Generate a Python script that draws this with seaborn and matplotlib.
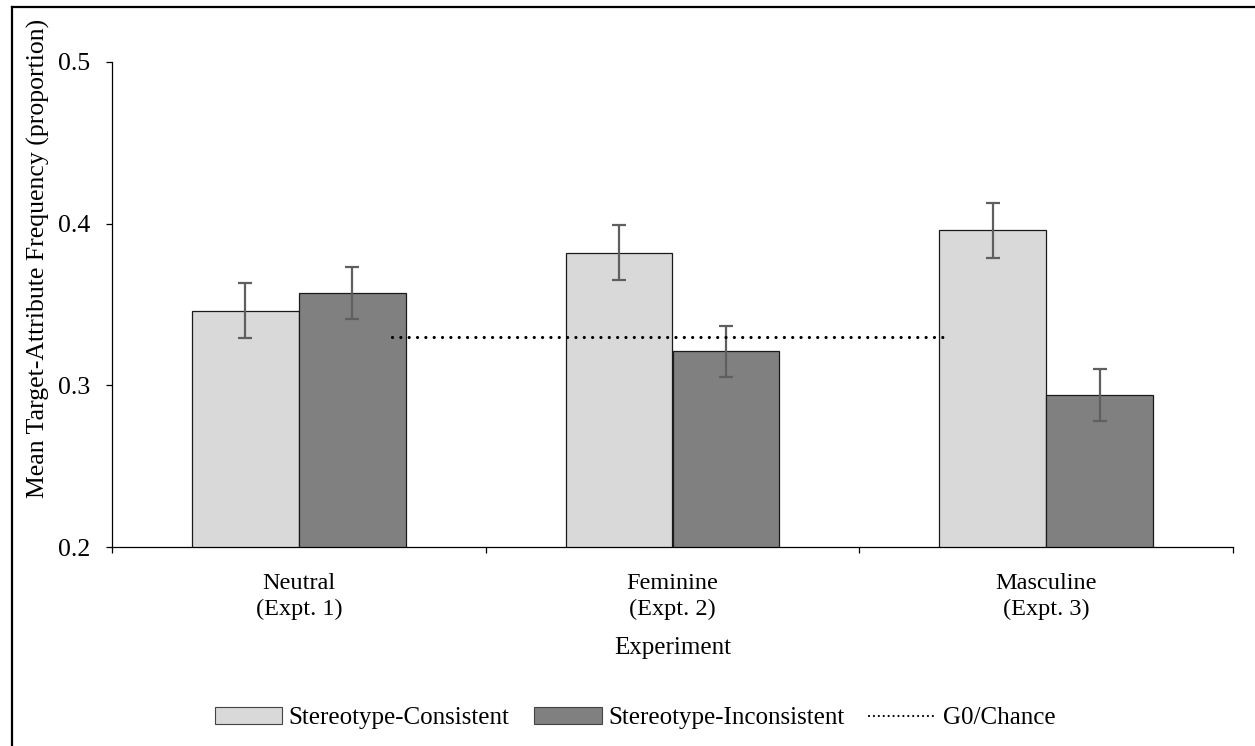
import matplotlib
matplotlib.use('Agg')
import matplotlib.pyplot as plt
import pandas as pd
import seaborn as sns
from matplotlib.lines import Line2D
from matplotlib.patches import Patch

# Data
experiments = ['Neutral\n(Expt. 1)', 'Feminine\n(Expt. 2)', 'Masculine\n(Expt. 3)']
series_names = ['Stereotype-Consistent', 'Stereotype-Inconsistent']
consistent = [0.346, 0.382, 0.396]
inconsistent = [0.357, 0.321, 0.294]
consistent_err = [0.017, 0.017, 0.017]
inconsistent_err = [0.016, 0.016, 0.016]
chance_x = [0.25, 1.73]
chance_y = [0.33, 0.33]
chance_name = 'G0/Chance'
y_ticks = [0.2, 0.3, 0.4, 0.5]

plt.rcParams['font.family'] = ['Liberation Serif', 'DejaVu Serif']
plt.rcParams['font.size'] = 17.5

df = pd.DataFrame({
    'Experiment': experiments * 2,
    'Type': [series_names[0]] * 3 + [series_names[1]] * 3,
    'value': consistent + inconsistent,
})
errs = {series_names[0]: consistent_err, series_names[1]: inconsistent_err}
colors = ['#d9d9d9', '#808080']

fig = plt.figure(figsize=(12.55, 7.46), dpi=100)
ax = fig.add_axes([112 / 1255, 1 - 547 / 746, 1121 / 1255, 485 / 746])

sns.barplot(data=df, x='Experiment', y='value', hue='Type', order=experiments,
            hue_order=series_names, palette=colors, width=0.572, errorbar=None,
            edgecolor='#1a1a1a', linewidth=0.9, legend=False, ax=ax)

# error bars at the centre of each bar seaborn drew
for name, cont in zip(series_names, ax.containers):
    xs = [p.get_x() + p.get_width() / 2 for p in cont.patches]
    ys = [p.get_height() for p in cont.patches]
    ax.errorbar(xs, ys, yerr=errs[name], fmt='none', ecolor='#5f5f5f',
                elinewidth=1.6, capsize=4.8, capthick=1.6, zorder=3)

ax.plot(chance_x, chance_y, color='black', linewidth=2.3,
        linestyle=(0, (0.01, 2.6)), dash_capstyle='round', zorder=4)

ax.set_ylim(0.2, 0.5)
ax.set_xlim(-0.5, 2.5)
ax.set_yticks(y_ticks)
ax.set_yticklabels([str(t) for t in y_ticks], fontsize=18.5)
ax.set_xticks([-0.5, 0.5, 1.5, 2.5])
ax.set_xticklabels([])
ax.set_xticks([0, 1, 2], minor=True)
ax.set_xticklabels(experiments, minor=True, linespacing=1.3)
ax.tick_params(axis='x', which='minor', length=0, pad=19)
ax.tick_params(axis='x', which='major', length=4.5, width=0.9, direction='out')
ax.tick_params(axis='y', length=4.5, width=0.9, direction='out', pad=11)

for s in ['top', 'right']:
    ax.spines[s].set_visible(False)
for s in ['left', 'bottom']:
    ax.spines[s].set_linewidth(0.9)
    ax.spines[s].set_color('black')

ax.set_xlabel('Experiment', fontsize=18)
ax.set_ylabel('Mean Target-Attribute Frequency (proportion)', fontsize=18.5)
ax.xaxis.set_label_coords(0.5, -0.185)
ax.yaxis.set_label_coords(-0.055, 0.596)

handles = [Patch(facecolor=colors[0], edgecolor='#444444', linewidth=0.8),
           Patch(facecolor=colors[1], edgecolor='#444444', linewidth=0.8),
           Line2D([0], [0], color='black', linewidth=1.6,
                  linestyle=(0, (0.01, 2.2)), dash_capstyle='round')]
fig.legend(handles, series_names + [chance_name], loc='center', ncol=3,
           bbox_to_anchor=(0.506, 1 - 718 / 746), frameon=False, fontsize=18,
           handlelength=2.7, handletextpad=0.25, columnspacing=1.0)

# frame lines at the left and top edge of the picture
fig.add_artist(Line2D([12 / 1255, 12 / 1255], [0, 1 - 7 / 746], color='black',
                      linewidth=1.6, transform=fig.transFigure))
fig.add_artist(Line2D([12 / 1255, 1], [1 - 7 / 746, 1 - 7 / 746], color='black',
                      linewidth=1.6, transform=fig.transFigure))

fig.savefig('out.png', dpi=100)
